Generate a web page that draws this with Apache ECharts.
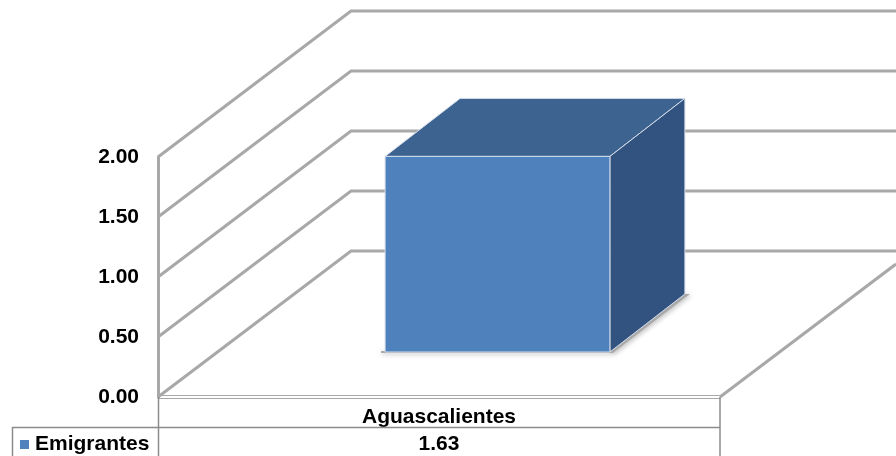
<!DOCTYPE html>
<html><head><meta charset="utf-8">
<style>html,body{margin:0;padding:0;background:#fff}#c{width:896px;height:456px}</style>
<script src="https://cdn.jsdelivr.net/npm/echarts@6/dist/echarts.min.js"></script>
</head><body><div id="c"></div>
<script>
const categories = ['Aguascalientes'];
const seriesName = 'Emigrantes';
const emigrantes = [1.63];
const wallTicks = [0, 0.5, 1, 1.5, 2];
const yMin = 0, yMax = 2, yStep = 0.5;

const FONT = '"Liberation Sans", Arial, sans-serif';
const FS = 21;
const GRID = '#a8a8a8';
const chart = echarts.init(document.getElementById('c'), null, {renderer: 'canvas'});

function line(pts, color, w) {
  return {type: 'polyline', silent: true, shape: {points: pts}, style: {stroke: color, lineWidth: w, fill: null, lineJoin: 'miter'}};
}
function wallItem(params, api) {
  const cs = params.coordSys;
  const p = api.coord([0, api.value(1)]);
  const y = p[1];
  const kids = [line([[cs.x, y], [cs.x + 193, y - 146], [896, y - 146]], GRID, 3)];
  if (api.value(1) === 0) {
    const xr = cs.x + cs.width;
    kids.push(line([[xr, y], [xr + 176, y - 133]], GRID, 3));
  }
  return {type: 'group', children: kids};
}
function barItem(params, api) {
  const dx = 58.5, dy = 45, depthX = 75, depthY = 58;
  const top = api.coord([api.value(0), api.value(1)]);
  const bot = api.coord([api.value(0), 0]);
  const w = api.size([1, 0])[0] * 0.4;
  const l = top[0] + dx - w / 2, r = l + w, t = top[1] - dy, b = bot[1] - dy;
  const edge = '#d3dce9';
  const poly = (pts, fill, extra) => ({type: 'polygon', silent: true, shape: {points: pts},
    style: Object.assign({fill: fill, stroke: edge, lineWidth: 1}, extra || {})});
  return {type: 'group', children: [
    {type: 'polygon', silent: true, shape: {points: [[l - 4, b - 1], [r, b - 1], [r + depthX, b - depthY], [r + depthX + 5, b - depthY], [r + 3, b + 1], [l - 4, b + 1]]},
      style: {fill: '#a9a9a9', shadowBlur: 5, shadowColor: 'rgba(0,0,0,0.35)', shadowOffsetX: 1, shadowOffsetY: 1}},
    poly([[l, t], [r, t], [r + depthX, t - depthY], [l + depthX, t - depthY]], '#3d6391'),
    poly([[r, t], [r + depthX, t - depthY], [r + depthX, b - depthY], [r, b]], '#325380'),
    poly([[l, t], [r, t], [r, b], [l, b]], '#4f81bd'),
    {type: 'text', silent: true, x: top[0], y: 444, style: {text: api.value(1).toFixed(2), font: 'bold ' + FS + 'px ' + FONT, fill: '#000', align: 'center', verticalAlign: 'middle'}}
  ]};
}

const tableColor = '#8c8c8c';
const seg = (x1, y1, x2, y2, color, w) => ({type: 'line', silent: true, z: 5,
  shape: {x1, y1, x2, y2}, style: {stroke: color, lineWidth: w}});

chart.setOption({
  animation: false,
  backgroundColor: '#fff',
  textStyle: {fontFamily: FONT},
  grid: {left: 158, top: 157, width: 562, height: 240, containLabel: false},
  legend: {data: [seriesName], left: 16, top: 431, itemWidth: 9, itemHeight: 9, itemGap: 4, padding: [3, 0, 0, 4],
    icon: 'rect', selectedMode: false,
    textStyle: {fontFamily: FONT, fontWeight: 'bold', fontSize: FS, color: '#000', padding: [0, 0, 0, 1]}},
  xAxis: {type: 'category', data: categories, boundaryGap: true,
    axisLine: {show: false}, axisTick: {show: false}, splitLine: {show: false},
    axisLabel: {color: '#000', fontWeight: 'bold', fontSize: FS, fontFamily: FONT, margin: 10}},
  yAxis: {type: 'value', min: yMin, max: yMax, interval: yStep,
    axisLine: {show: true, lineStyle: {color: GRID, width: 3}}, axisTick: {show: false}, splitLine: {show: false},
    axisLabel: {color: '#000', fontWeight: 'bold', fontSize: FS, fontFamily: FONT, margin: 19, formatter: v => v.toFixed(2)}},
  series: [
    {type: 'custom', name: 'walls', coordinateSystem: 'cartesian2d', silent: true, clip: false, z: 1,
      data: wallTicks.map(v => [0, v]), encode: {x: 0, y: 1}, renderItem: wallItem},
    {type: 'custom', name: seriesName, coordinateSystem: 'cartesian2d', silent: true, clip: false, z: 3,
      itemStyle: {color: '#4f81bd'},
      data: emigrantes.map((v, i) => [i, v]), encode: {x: 0, y: 1}, renderItem: barItem}
  ],
  graphic: [
    seg(158, 395.5, 720, 395.5, GRID, 1),
    seg(158, 398.5, 720, 398.5, GRID, 1),
    seg(158.5, 397, 158.5, 456, tableColor, 1.5),
    seg(720, 397, 720, 456, tableColor, 1.5),
    seg(12, 427.5, 720, 427.5, tableColor, 1.5),
    seg(12.5, 427, 12.5, 456, tableColor, 1.5)
  ]
});
</script></body></html>
